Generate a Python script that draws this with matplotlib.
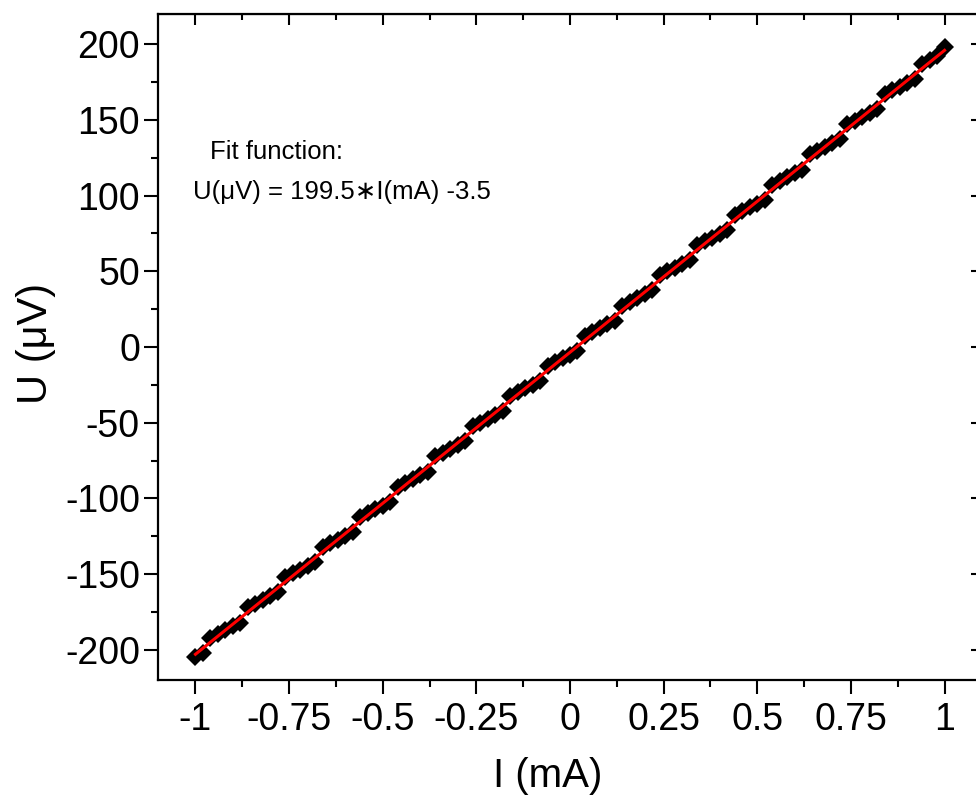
import matplotlib
matplotlib.use("Agg")
import matplotlib.pyplot as plt
import numpy as np

plt.rcParams['font.family'] = ['Liberation Sans', 'DejaVu Sans']
plt.rcParams['axes.unicode_minus'] = False

# Data
current_mA = [-1.00, -0.98, -0.96, -0.94, -0.92, -0.90, -0.88, -0.86, -0.84, -0.82,
              -0.80, -0.78, -0.76, -0.74, -0.72, -0.70, -0.68, -0.66, -0.64, -0.62,
              -0.60, -0.58, -0.56, -0.54, -0.52, -0.50, -0.48, -0.46, -0.44, -0.42,
              -0.40, -0.38, -0.36, -0.34, -0.32, -0.30, -0.28, -0.26, -0.24, -0.22,
              -0.20, -0.18, -0.16, -0.14, -0.12, -0.10, -0.08, -0.06, -0.04, -0.02,
              0.00, 0.02, 0.04, 0.06, 0.08, 0.10, 0.12, 0.14, 0.16, 0.18,
              0.20, 0.22, 0.24, 0.26, 0.28, 0.30, 0.32, 0.34, 0.36, 0.38,
              0.40, 0.42, 0.44, 0.46, 0.48, 0.50, 0.52, 0.54, 0.56, 0.58,
              0.60, 0.62, 0.64, 0.66, 0.68, 0.70, 0.72, 0.74, 0.76, 0.78,
              0.80, 0.82, 0.84, 0.86, 0.88, 0.90, 0.92, 0.94, 0.96, 0.98, 1.00]
voltage_uV = [-204.5, -202.0, -192.0, -189.5, -187.0, -184.6, -182.1, -172.1, -169.6, -167.1,
              -164.6, -162.1, -152.1, -149.6, -147.1, -144.7, -142.2, -132.2, -129.7, -127.2,
              -124.7, -122.2, -112.2, -109.7, -107.2, -104.8, -102.3, -92.3, -89.8, -87.3,
              -84.8, -82.3, -72.3, -69.8, -67.3, -64.9, -62.4, -52.4, -49.9, -47.4,
              -44.9, -42.4, -32.4, -29.9, -27.4, -25.0, -22.5, -12.5, -10.0, -7.5,
              -5.0, -2.5, 7.5, 10.0, 12.5, 15.0, 17.4, 27.4, 29.9, 32.4,
              34.9, 37.4, 47.4, 49.9, 52.4, 54.9, 57.3, 67.3, 69.8, 72.3,
              74.8, 77.3, 87.3, 89.8, 92.3, 94.8, 97.2, 107.2, 109.7, 112.2,
              114.7, 117.2, 127.2, 129.7, 132.2, 134.7, 137.1, 147.1, 149.6, 152.1,
              154.6, 157.1, 167.1, 169.6, 172.1, 174.6, 177.0, 187.0, 189.5, 192.0, 198.0]

fit_slope = 199.5
fit_intercept = -3.5

x_ticks = [-1, -0.75, -0.5, -0.25, 0, 0.25, 0.5, 0.75, 1]
x_tick_labels = ['-1', '-0.75', '-0.5', '-0.25', '0', '0.25', '0.5', '0.75', '1']
y_ticks = [-200, -150, -100, -50, 0, 50, 100, 150, 200]

W, H = 976, 798
fig = plt.figure(figsize=(W / 100, H / 100), dpi=100)
left, right, top, bottom = 158, 982, 14, 680
ax = fig.add_axes([left / W, (H - bottom) / H, (right - left) / W, (bottom - top) / H])

ax.plot(current_mA, voltage_uV, linestyle='none', marker='D', markersize=9.5,
        color='black', markeredgewidth=0)
fx = np.array([min(current_mA), max(current_mA)])
ax.plot(fx, fit_slope * fx + fit_intercept, color='#ff0000', linewidth=2.2)

ax.set_xlim(-1.1, 1.1)
ax.set_ylim(-220, 220)
ax.set_xticks(x_ticks)
ax.set_xticklabels(x_tick_labels)
ax.set_yticks(y_ticks)
ax.set_xticks(np.arange(-1.0, 1.001, 0.125), minor=True)
ax.set_yticks(np.arange(-200, 201, 25), minor=True)

for s in ax.spines.values():
    s.set_linewidth(1.6)

ax.tick_params(which='major', direction='out', length=10, width=1.5, labelsize=27)
ax.tick_params(axis='y', which='major', pad=3)
ax.tick_params(axis='x', which='major', pad=6)
ax.tick_params(which='minor', direction='out', length=5, width=1.5)

top_ax = ax.secondary_xaxis('top')
top_ax.set_xticks(x_ticks)
top_ax.set_xticks(np.arange(-1.0, 1.001, 0.125), minor=True)
top_ax.tick_params(which='major', direction='in', length=8, width=1.5, labeltop=False)
top_ax.tick_params(which='minor', direction='in', length=4, width=1.5)
right_ax = ax.secondary_yaxis('right')
right_ax.set_yticks(y_ticks)
right_ax.set_yticks(np.arange(-200, 201, 25), minor=True)
right_ax.tick_params(which='major', direction='in', length=8, width=1.5, labelright=False)
right_ax.tick_params(which='minor', direction='in', length=4, width=1.5)

ax.set_xlabel('I (mA)', fontsize=29)
ax.xaxis.set_label_coords((548 - left) / (right - left), -(776 - bottom) / (bottom - top))
ax.set_ylabel('U (\u03bcV)', fontsize=30)
ax.yaxis.set_label_coords(-(left - 36) / (right - left), (bottom - 343) / (bottom - top))
ax.xaxis.label.set_va('center')
ax.yaxis.label.set_va('center')

fig.text(210 / W, 1 - 152 / H, 'Fit function:', fontsize=18.5, ha='left', va='center')
fig.text(193 / W, 1 - 192 / H, 'U(\u03bcV) = 199.5\u2217I(mA) -3.5', fontsize=18.5,
         ha='left', va='center')

fig.savefig('out.png', dpi=100)
